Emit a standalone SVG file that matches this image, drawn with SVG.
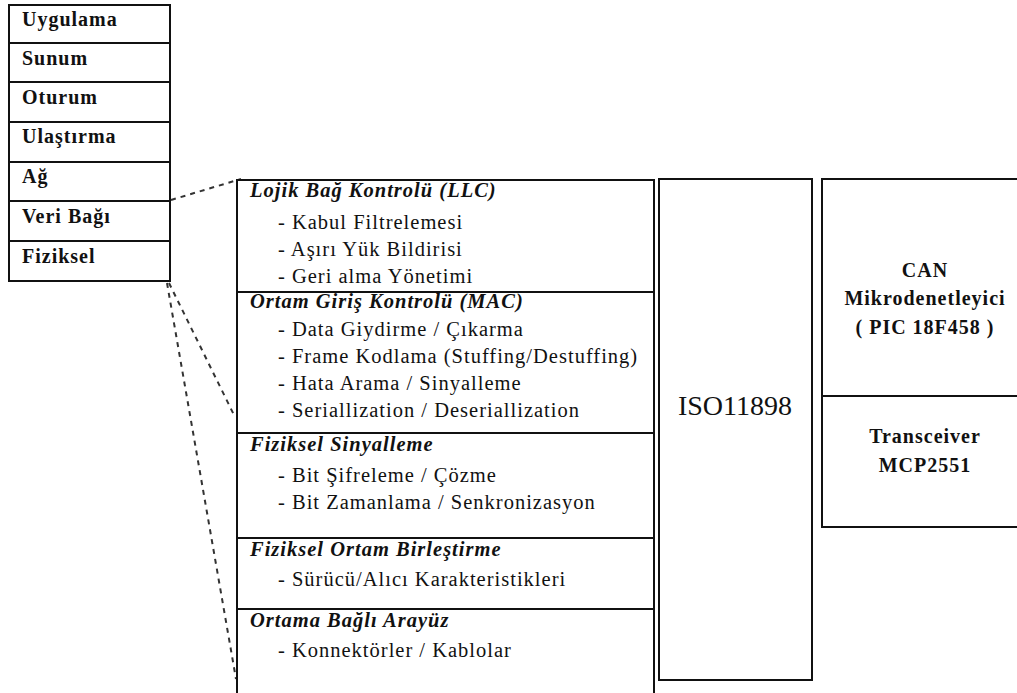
<svg xmlns="http://www.w3.org/2000/svg" width="1017" height="693" viewBox="0 0 1017 693">
<style>
.box{fill:#fff;stroke:#111;stroke-width:2}
.ln{stroke:#111;stroke-width:2;fill:none}
.dash{stroke:#333;stroke-width:2;stroke-dasharray:5,5;fill:none}
text{font-family:'Liberation Serif','Times New Roman','DejaVu Serif',serif;fill:#111}
.osi{font-weight:bold;font-size:20px;letter-spacing:1px}
.hd{font-weight:bold;font-style:italic;font-size:20.5px;letter-spacing:1px}
.it{font-size:20.5px;letter-spacing:1px}
.rb{font-weight:bold;font-size:20px;letter-spacing:1px;text-anchor:middle}
.iso{font-size:28px;text-anchor:middle}
</style>
<rect width="1017" height="693" fill="#fff"/>
<g id="osi" font-family="Liberation Serif, serif">
<rect class="box" x="9" y="5" width="161" height="276"/>
<line class="ln" x1="9" y1="43" x2="170" y2="43"/>
<line class="ln" x1="9" y1="82" x2="170" y2="82"/>
<line class="ln" x1="9" y1="122" x2="170" y2="122"/>
<line class="ln" x1="9" y1="162" x2="170" y2="162"/>
<line class="ln" x1="9" y1="201" x2="170" y2="201"/>
<line class="ln" x1="9" y1="241" x2="170" y2="241"/>
<text class="osi" x="22" y="26">Uygulama</text>
<text class="osi" x="22" y="65">Sunum</text>
<text class="osi" x="22" y="104">Oturum</text>
<text class="osi" x="22" y="143">Ulaştırma</text>
<text class="osi" x="22" y="183">Ağ</text>
<text class="osi" x="22" y="223">Veri Bağı</text>
<text class="osi" x="22" y="263">Fiziksel</text>
</g>
<g id="connectors">
<line class="dash" x1="171" y1="200" x2="241" y2="179"/>
<line class="dash" x1="169" y1="283" x2="235" y2="417"/>
<line class="dash" x1="167" y1="283" x2="236" y2="679"/>
</g>
<g id="can-layers">
<path class="ln" d="M237 700 V180 H654 V700"/>
<line class="ln" x1="237" y1="292" x2="654" y2="292"/>
<line class="ln" x1="237" y1="433" x2="654" y2="433"/>
<line class="ln" x1="237" y1="538" x2="654" y2="538"/>
<line class="ln" x1="237" y1="609" x2="654" y2="609"/>
<text class="hd" x="250" y="197">Lojik Bağ Kontrolü (LLC)</text>
<text class="it" x="278" y="229">- Kabul Filtrelemesi</text>
<text class="it" x="278" y="256">- Aşırı Yük Bildirisi</text>
<text class="it" x="278" y="283">- Geri alma Yönetimi</text>
<text class="hd" x="250" y="308">Ortam  Giriş Kontrolü (MAC)</text>
<text class="it" x="278" y="336">- Data Giydirme / Çıkarma</text>
<text class="it" x="278" y="363">- Frame Kodlama (Stuffing/Destuffing)</text>
<text class="it" x="278" y="390">- Hata Arama / Sinyalleme</text>
<text class="it" x="278" y="417">- Seriallization / Deseriallization</text>
<text class="hd" x="250" y="451">Fiziksel Sinyalleme</text>
<text class="it" x="278" y="482">- Bit Şifreleme / Çözme</text>
<text class="it" x="278" y="509">- Bit Zamanlama / Senkronizasyon</text>
<text class="hd" x="250" y="556">Fiziksel Ortam Birleştirme</text>
<text class="it" x="278" y="586">- Sürücü/Alıcı Karakteristikleri</text>
<text class="hd" x="250" y="627">Ortama Bağlı Arayüz</text>
<text class="it" x="278" y="657">- Konnektörler / Kablolar</text>
</g>
<g id="iso">
<rect class="box" x="659" y="179" width="153" height="501"/>
<text class="iso" x="735" y="415">ISO11898</text>
</g>
<g id="hardware">
<rect class="box" x="822" y="179" width="210" height="348"/>
<line class="ln" x1="822" y1="396" x2="1032" y2="396"/>
<text class="rb" x="925" y="277">CAN</text>
<text class="rb" x="925" y="305">Mikrodenetleyici</text>
<text class="rb" x="925" y="334">( PIC 18F458 )</text>
<text class="rb" x="925" y="443">Transceiver</text>
<text class="rb" x="925" y="472">MCP2551</text>
</g>
</svg>
